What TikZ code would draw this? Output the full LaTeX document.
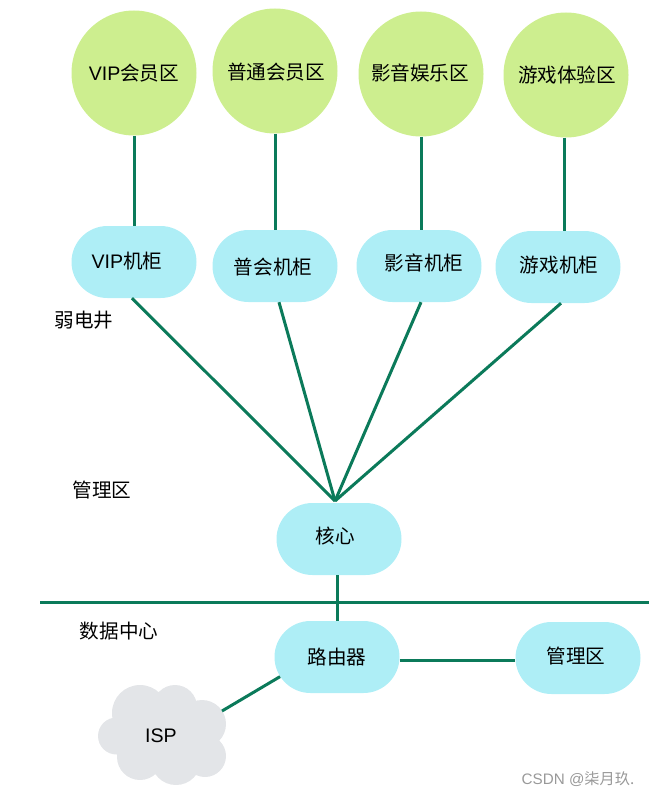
\documentclass[tikz,border=0pt]{standalone}
\usepackage{fontspec}
\setmainfont{Liberation Sans}
\newfontfamily\cjk{Noto Sans CJK SC}
\usetikzlibrary{shapes.misc}
\definecolor{zonecol}{HTML}{CDEE8F}
\definecolor{cabcol}{HTML}{AEEEF6}
\definecolor{wirecol}{HTML}{0B7A5A}
\definecolor{cloudcol}{HTML}{E3E5E8}

\begin{document}
\begin{tikzpicture}[
  x=1pt,y=-1pt,
  font=\fontsize{19.6}{22}\selectfont\cjk,
  zone/.style={circle,fill=zonecol,minimum size=125pt,inner sep=0pt},
  cab/.style={rounded rectangle,fill=cabcol,minimum width=125pt,minimum height=72pt,inner sep=0pt},
  wire/.style={wirecol,line width=3pt},
  lbl/.style={inner sep=0pt},
  wmark/.style={inner sep=0pt,text=gray!80,font=\fontsize{15.2}{16}\selectfont\cjk}
]
\useasboundingbox (0,0) rectangle (649,797);
\node[zone] (vipz)  at (134,73) {{\rmfamily VIP}会员区};
\node[zone] (puz)   at (275,71) {};
\node[lbl]  (puzt)  at (276,72) {普通会员区};
\node[zone] (yingz) at (421,74) {};
\node[lbl]  (yingzt) at (420,73) {影音娱乐区};
\node[zone] (youz)  at (566,75) {};
\node[lbl]  (youzt) at (567,75) {游戏体验区};
\node[cab] (vipg)  at (134,262) {};
\node[lbl] (vipgt) at (127,261) {{\rmfamily VIP}机柜};
\node[cab] (pug)   at (275,266) {};
\node[lbl] (pugt)  at (273,267) {普会机柜};
\node[cab] (yingg) at (419,266) {};
\node[lbl] (yinggt) at (424,263) {影音机柜};
\node[cab] (toug)  at (558,267) {};
\node[lbl] (tougt) at (559,265) {游戏机柜};
\node[cab] (core)  at (339,539) {};
\node[lbl] (coret) at (335,536) {核心};
\node[cab] (rout)  at (337,657) {路由器};
\node[cab] (mgr)   at (578,658) {};
\node[lbl] (mgrt)  at (576,656) {管理区};
% cloud from overlapping puffs
\fill[cloudcol] (162,735) circle (38) (116.5,736) circle (18.5) (140,713) circle (28) (175,707) circle (22)
  (202,724) circle (24) (205,756) circle (21) (176,760) circle (25) (140,757) circle (23);
\node[lbl] (isp) at (161,736) {{\rmfamily ISP}};
\node[lbl] (ruo)  at (84,320)  {弱电井};
\node[lbl] (guan) at (102,490) {管理区};
\node[lbl] (shu)  at (119,631) {数据中心};
\node[wmark] (csdn) at (578,779) {{\rmfamily CSDN @}柒月玖.};
\coordinate (hub)   at (335,501);
\coordinate (linel) at (40,602);
\coordinate (liner) at (649,602);
\coordinate (ispe)  at (222,711);
\draw[wire] (vipz.south) -- (vipz.south |- vipg.north);
\draw[wire] (puz.south) -- (puz.south |- pug.north);
\draw[wire] (yingz.south) -- (yingz.south |- yingg.north);
\draw[wire] ([xshift=-2pt]youz.south) -- ([xshift=-2pt]youz.south |- toug.north);
\draw[wire] ([xshift=-2pt]vipg.south) -- (hub);
\draw[wire] ([xshift=4pt]pug.south) -- (hub);
\draw[wire] ([xshift=2pt]yingg.south) -- (hub);
\draw[wire] ([xshift=3pt]toug.south) -- (hub);
\draw[wire] (linel) -- (liner);
\draw[wire] (core.south -| rout.north) -- (rout.north);
\draw[wire] ([yshift=-3pt]rout.east) -- ([yshift=-2pt]mgr.west);
\draw[wire] (rout.199) -- (ispe);
\end{tikzpicture}
\end{document}
